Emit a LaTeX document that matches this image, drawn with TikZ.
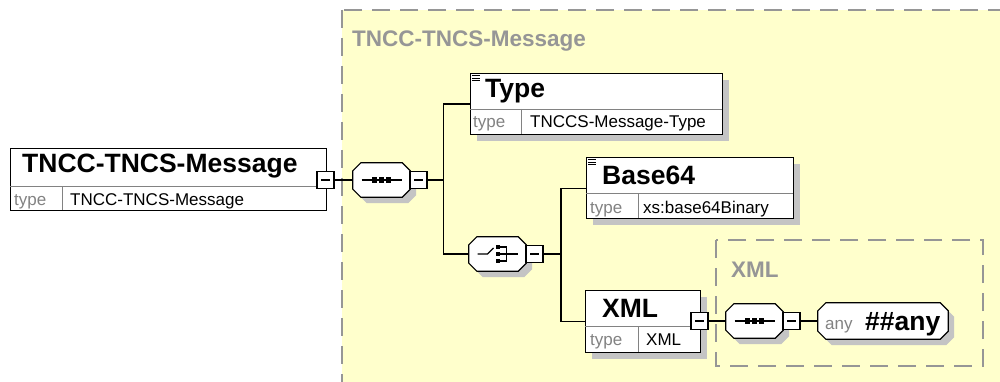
\documentclass[tikz,border=0pt]{standalone}
\usepackage{fontspec}
\setmainfont{Liberation Sans}
\usetikzlibrary{shadows}
\definecolor{groupyellow}{RGB}{255,255,204}
\definecolor{groupgray}{RGB}{150,150,150}
\definecolor{typegray}{RGB}{130,130,130}
\definecolor{shadegray}{RGB}{196,196,196}
% outline of an octagon round a named node
\newcommand{\octapath}[1]{%
  ([xshift=8pt]#1.north west) -- ([xshift=-8pt]#1.north east)
  -- ([yshift=-8pt]#1.north east) -- ([yshift=8pt]#1.south east)
  -- ([xshift=-8pt]#1.south east) -- ([xshift=8pt]#1.south west)
  -- ([yshift=8pt]#1.south west) -- ([yshift=-8pt]#1.north west) -- cycle}
\newcommand{\octagonbox}[1]{%
  \fill[shadegray, transform canvas={xshift=6pt, yshift=-6pt}] \octapath{#1};
  \draw[fill=white, line width=1.2pt] \octapath{#1};
}
\tikzset{
  shade/.style={drop shadow={shadow xshift=6pt, shadow yshift=-6pt, fill=shadegray, opacity=1}},
  elbox/.style={draw, fill=white, line width=1.3pt, anchor=north west, inner sep=0pt},
  rowline/.style={draw=typegray, line width=0.8pt},
  octa/.style={inner sep=0pt, minimum height=34pt},
  minusbox/.style={draw, fill=white, line width=1.1pt, minimum size=17pt, inner sep=0pt,
    path picture={\draw[line width=1.1pt] ([xshift=4pt]path picture bounding box.west)
      -- ([xshift=-4pt]path picture bounding box.east);}},
  eltitle/.style={anchor=base west, inner sep=0pt, font=\fontsize{26.5}{28}\selectfont\bfseries},
  typelbl/.style={anchor=base west, inner sep=0pt, text=typegray, font=\fontsize{17}{18}\selectfont},
  typeval/.style={anchor=base west, inner sep=0pt, font=\fontsize{17}{18}\selectfont},
  grouplbl/.style={anchor=base west, inner sep=0pt, text=groupgray, font=\fontsize{22.5}{24}\selectfont\bfseries},
  groupbox/.style={draw=groupgray, fill=groupyellow, line width=2pt, dash pattern=on 18pt off 10pt},
  conn/.style={line width=1.3pt}
}
\begin{document}
\begin{tikzpicture}[x=1pt, y=-1pt]
\useasboundingbox (0,0) rectangle (1000,382);
\clip (0,0) rectangle (1000,382);
% Groups
\draw[groupbox] (342,10) rectangle (1012,400);
\node[grouplbl] (msglbl) at (352,47) {TNCC-TNCS-Message};
\draw[groupbox] (716,240) rectangle (983,366);
\node[grouplbl] (xmllbl) at (731,277) {XML};

% Elements
\node[elbox, minimum width=316pt, minimum height=62pt] (root) at (10,148) {};
\draw[rowline] (10,186) -- (326,186) (62,186) -- (62,210);
\node[eltitle] (roottitle) at (22,172) {TNCC-TNCS-Message};
\node[typelbl] (roottype) at (14,205) {type};
\node[typeval] (rootval) at (70,205) {TNCC-TNCS-Message};

\node[elbox, shade, minimum width=252pt, minimum height=61pt] (typ) at (470,73) {};
\draw[rowline] (470,109) -- (722,109) (521,109) -- (521,134);
\node[eltitle] (typtitle) at (485,98) {Type};
\node[typelbl] (typtype) at (473,128) {type};
\node[typeval] (typval) at (530,128) {TNCCS-Message-Type};

\node[elbox, shade, minimum width=207pt, minimum height=61pt] (b64) at (586,157) {};
\draw[rowline] (586,193) -- (793,193) (638,193) -- (638,218);
\node[eltitle] (b64title) at (602,185) {Base64};
\node[typelbl] (b64type) at (590,213) {type};
\node[typeval] (b64val) at (643,213) {xs:base64Binary};

\node[elbox, shade, minimum width=115pt, minimum height=62pt] (xml) at (585,290) {};
\draw[rowline] (585,326) -- (700,326) (638,326) -- (638,352);
\node[eltitle] (xmltitle) at (602,317) {XML};
\node[typelbl] (xmltype) at (590,345) {type};
\node[typeval] (xmlval) at (646,345) {XML};

\foreach \el in {typ,b64}
  \foreach \d in {0,2.5,5}
    \draw[line width=0.8pt] (\el.north west) ++(2,2.5+\d) -- ++(8,0);

% Compositors
\node[octa, minimum width=57pt] (seqa) at (381.5,180) {};
\node[octa, minimum width=57pt] (choa) at (497.5,254) {};
\node[octa, minimum width=57pt] (seqb) at (754.5,321) {};
\node[octa, minimum width=130pt, minimum height=36pt] (anyel) at (883,321) {};
\octagonbox{seqa}
\octagonbox{choa}
\octagonbox{seqb}
\octagonbox{anyel}
\node[anchor=base west, inner sep=0pt, text=typegray, font=\fontsize{17}{18}\selectfont]
  (anylbl) at (825,329) {any};
\node[anchor=base west, inner sep=0pt, font=\fontsize{26.5}{28}\selectfont\bfseries]
  (anyval) at (865,330) {\#\#any};

\foreach \s in {seqa,seqb} {
  \draw[line width=1.3pt] ([xshift=-20pt]\s.center) -- ([xshift=20pt]\s.center);
  \foreach \d in {-7,0,7}
    \fill ([xshift=\d pt]\s.center) +(-2.7,-2.7) rectangle +(2.7,2.7);
}
\draw[line width=1.2pt] (choa.center) ++(-20,0) -- ++(10,0) -- ++(6,-6);
\foreach \d in {-7,0,7}
  \fill (choa.center) ++(0.5,\d) +(-2.4,-2.4) rectangle +(2.4,2.4);
\draw[line width=1.2pt] (choa.center) ++(2,-7) -- ++(7,0) -- ++(0,14) -- ++(-7,0)
  (choa.center) ++(2,0) -- ++(18,0);

% Collapse boxes
\node[minusbox] (rootm) at (325.5,180) {};
\node[minusbox] (seqam) at (418.5,180) {};
\node[minusbox] (choam) at (534.5,254) {};
\node[minusbox] (xmlm) at (699.5,321) {};
\node[minusbox] (seqbm) at (791.5,321) {};

% Connectors
\coordinate (forka) at (443.5,180);
\coordinate (forkb) at (561,254);
\draw[conn] (rootm) -- (seqa);
\draw[conn] (seqam) -- (forka);
\draw[conn] (typ.west) -| (forka) |- (choa.west);
\draw[conn] (choam) -- (forkb);
\draw[conn] (b64.west) -| (forkb) |- (xml.west);
\draw[conn] (xmlm) -- (seqb);
\draw[conn] (seqbm) -- (anyel);
\end{tikzpicture}
\end{document}
